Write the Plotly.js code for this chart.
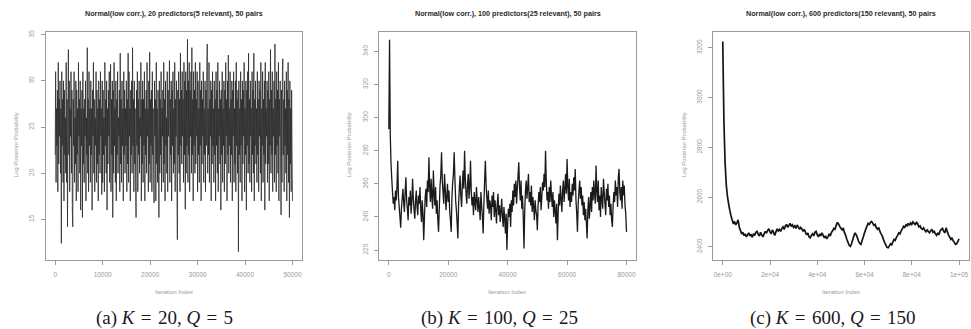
<!DOCTYPE html>
<html>
<head>
<meta charset="utf-8">
<script src="https://cdn.plot.ly/plotly-3.0.1.min.js"></script>
<style>
  html, body { margin: 0; padding: 0; background: #fff; }
  #chart { width: 971px; height: 329px; }
</style>
</head>
<body>
<div id="chart"></div>
<script>
// ---------------- data ----------------
const titles = [
  "Normal(low corr.), 20 predictors(5 relevant), 50 pairs",
  "Normal(low corr.), 100 predictors(25 relevant), 50 pairs",
  "Normal(low corr.), 600 predictors(150 relevant), 50 pairs"
];
const captions = [
  "(a) <i>K</i> \u200A=\u200A 20, <i>Q</i> \u200A=\u200A 5",
  "(b) <i>K</i> \u200A=\u200A 100, <i>Q</i> \u200A=\u200A 25",
  "(c) <i>K</i> \u200A=\u200A 600, <i>Q</i> \u200A=\u200A 150"
];
const yLabel = "Log Posterior Probability";
const xLabel = "Iteration Index";

// last iteration index of each chain (samples are evenly spaced from 0)
const lastIterA = 50000;
const lastIterB = 80000;
const lastIterC = 100000;

// panel (a): log posterior trace, K = 20
const traceA = [
  22,31,19,27,23,29,18,32,21,28,24,30,20,27,12.4,31,23,28,19,30,
  17,29,22,26,20,32,19,28,14.2,27,33.4,22,30,18,27,24,31,20,29,16,
  14.2,28,23,31,19,26,21,30,17,29,22,27,18,32,24,28,20,30,16,27,
  23,29,15.2,31,21,27,19,28,24,30,17,26,22,33.6,20,28,18,31,23,27,
  19,30,22,27,16,29,24,32,20,28,18,26,23,31,19,29,21,27,17,30,
  22,28,20,31,24,27,17.7,30,19,29,22,26,18,32,23,28,20,30,16,27,
  21,29,24,31,19,27,31.8,18,28,22,30,15.2,29,20,32,23,27,19,30,17,
  28,22,31,20,26,24,29,18,33,21,28,19,30,23,27,17,31,22,29,20,
  27,23,30,18,28,21,33,19,31,24,27,17,29,22,30,20,33.6,23,28,18,
  30,21,27,19,15.2,29,23,31,18,28,22,30,20,26,24,32,17,28,21,30,
  19,28,23,31,17,27,22,29,20,32,24,27,18,30,21,33.1,19,28,23,29,
  18,31,22,27,20,16.8,30,24,28,17,32,21,27,19,29,23,15.2,30,20,28,
  22,31,18,27,24,29,19,32,21,28,17,30,23,26,20,31,18,29,24,27,
  32.2,19,28,22,30,17,29,23,31,20,27,21,32,18,28,24,30,19,12.8,29,
  22,31,20,28,18,33,23,29,21,31,24,28,19,32,22,30,16.1,31,20,29,
  23,34.5,19,30,22,32,18,29,24,31,20,33.6,22,28,17,31,23,29,20,32,
  21,28,24,31,18,30,22,27,19,32,23,29,17,30,21,28,24,31,19,27,
  22,30,18,29,23,31,34,20,27,22,32,19,28,24,30,17,29,21,31,23,
  27,19,30,22,28,17,31,23,29,20,32,18,27,24,30,21,28,16,29,22,
  31,19,27,23,30,18,29,21,32,24,28,17,30,22,32.8,20,27,23,31,19,
  28,22,30,17,29,24,31,19,27,21,30,18,32,23,28,20,29,11.5,30,22,
  27,19,31,23,28,17,30,21,29,24,32,18,27,22,30,16,29,23,31,20,
  33,21,28,19,30,24,27,18,31,22,29,20,33,17,28,23,30,21,27,19,
  31,22,28,18,30,24,29,20,32,17,27,23,31,19,28,22,30,16,32,21,
  27,24,30,19,29,21,31,17,28,23,33.4,20,29,22,31,18,27,24,30,19,
  34,22,28,18,31,23,29,20,32,17,28,24,30,21,15.5,29,19,31,32.4,22,
  28,18,30,23,27,20,31,17,29,22,32,19,28,15.2,30,21,27,18,29,22,
  17
];

// panel (b): log posterior trace, K = 100
const traceB = [
  293,347,289,272,263,255,248,252,244,256,250,258,274,252,246,240,233.5,245,251,257,
  249,243,255,264,250,245,238,252,247,256,242,249,263,251,244,239,250,256,246,241,
  253,248,258,244,237,250,242,226,240,252,257,246,262,255,276,258,249,263,252,245,
  268,254,247,258,242,250,238,231,246,259,265,279,262,255,248,266,257,244,252,260,
  249,256,243,238,231,252,261,266,279,263,250,244,236,227,248,258,265,252,246,259,
  268,257,280,263,254,248,260,266,251,258,274,256,247,252,241,255,249,244,258,250,
  243,252,246,238,255,247,240,230,248,262,274,259,251,245,256,242,250,247,238,253,
  246,255,240,250,244,236,248,254,241,247,237,243,251,240,234,246,239,230,242,220,
  236,245,240,248,234,250,243,256,247,260,252,262,248,257,265,273,258,250,262,245,
  253,240,221,244,256,262,251,258,266,249,255,247,259,243,252,246,238,250,244,241,
  232,247,255,249,258,244,252,261,256,266,258,280,262,250,255,245,258,249,262,253,
  246,255,240,250,244,236,248,226,242,254,247,259,251,243,256,262,249,257,266,254,
  275,258,250,263,246,255,249,260,253,264,256,269,250,242,231,248,256,262,251,258,
  247,253,241,249,238,245,236,227,244,252,239,247,255,243,258,250,262,254,248,271,
  256,249,262,244,253,240,258,251,245,263,255,248,241,257,250,260,246,253,241,248,
  238,234,247,255,249,262,253,258,246,264,269,255,250,258,245,262,253,259,247,242,
  231
];

// panel (c): log posterior trace, K = 600
const traceC = [
  3225,2900,2735,2648,2602,2572,2546,2524,2508,2492,
  2502,2488,2496,2508,2478,2466,2452,2458,2445,2452,
  2440,2448,2456,2444,2450,2438,2452,2446,2458,2462,
  2450,2444,2458,2448,2440,2452,2462,2455,2466,2472,
  2460,2452,2468,2458,2446,2460,2472,2464,2470,2462,
  2474,2480,2470,2484,2490,2478,2486,2494,2482,2488,
  2478,2484,2474,2488,2480,2470,2478,2472,2462,2470,
  2458,2448,2456,2440,2436,2446,2452,2444,2458,2462,
  2448,2440,2452,2444,2456,2446,2436,2444,2432,2440,
  2450,2444,2458,2464,2474,2470,2486,2498,2492,2482,
  2474,2468,2476,2458,2446,2430,2418,2406,2402,2412,
  2428,2444,2456,2448,2436,2422,2414,2410,2426,2440,
  2456,2470,2482,2494,2490,2498,2502,2494,2486,2490,
  2476,2470,2478,2462,2452,2444,2430,2418,2408,2398,
  2396,2404,2412,2408,2420,2430,2426,2438,2446,2456,
  2452,2464,2472,2482,2478,2488,2484,2494,2486,2496,
  2490,2500,2494,2488,2500,2492,2480,2484,2474,2470,
  2476,2466,2460,2468,2462,2456,2464,2470,2458,2462,
  2452,2446,2456,2448,2464,2470,2474,2462,2456,2476,
  2462,2448,2440,2430,2436,2424,2418,2410,2412,2422,
  2432
];

// tick values / labels
const xTicksA = [0,10000,20000,30000,40000,50000];
const xTextA  = ["0","10000","20000","30000","40000","50000"];
const yTicksA = [15,20,25,30,35];
const yTextA  = ["15","20","25","30","35"];
const xTicksB = [0,20000,40000,60000,80000];
const xTextB  = ["0","20000","40000","60000","80000"];
const yTicksB = [220,240,260,280,300,320,340];
const yTextB  = ["220","240","260","280","300","320","340"];
const xTicksC = [0,20000,40000,60000,80000,100000];
const xTextC  = ["0e+00","2e+04","4e+04","6e+04","8e+04","1e+05"];
const yTicksC = [2400,2600,2800,3000,3200];
const yTextC  = ["2400","2600","2800","3000","3200"];

// ---------------- layout ----------------
const W = 971, H = 329;
const px = v => v / W;
const py = v => (H - v) / H;

const plotTop = 31.5, plotBottom = 260;
const boxes = [[45.7, 302.0], [379.3, 636.0], [713.3, 968.5]];
const yDom = [py(plotBottom), py(plotTop)];

const axisFontFamily = "Liberation Sans, Arial, sans-serif";
const grey = "#9a9a9a";

function xAxis(i, range, vals, text, anchor) {
  return {
    domain: [px(boxes[i][0]), px(boxes[i][1])],
    range: range, anchor: anchor,
    tickmode: "array", tickvals: vals, ticktext: text,
    showgrid: false, zeroline: false,
    showline: true, mirror: true, linecolor: grey, linewidth: 1,
    ticks: "outside", ticklen: 4, tickcolor: grey, tickwidth: 1,
    ticklabelstandoff: 4,
    tickfont: { size: 6.5, color: grey, family: axisFontFamily },
    fixedrange: true
  };
}
function yAxis(range, vals, text, anchor) {
  return {
    domain: yDom, range: range, anchor: anchor,
    tickmode: "array", tickvals: vals, ticktext: text,
    tickangle: -90,
    showgrid: false, zeroline: false,
    showline: true, mirror: true, linecolor: grey, linewidth: 1,
    ticks: "outside", ticklen: 4, tickcolor: grey, tickwidth: 1,
    ticklabelstandoff: 4,
    tickfont: { size: 6.5, color: grey, family: axisFontFamily },
    fixedrange: true
  };
}

const traces = [
  { type: "scatter", mode: "lines", y: traceA, x0: 0, dx: lastIterA / (traceA.length - 1),
    xaxis: "x", yaxis: "y", line: { color: "#2a2a2a", width: 0.8, simplify: false }, hoverinfo: "skip" },
  { type: "scatter", mode: "lines", y: traceB, x0: 0, dx: lastIterB / (traceB.length - 1),
    xaxis: "x2", yaxis: "y2", line: { color: "#1a1a1a", width: 1.3, simplify: false }, hoverinfo: "skip" },
  { type: "scatter", mode: "lines", y: traceC, x0: 0, dx: lastIterC / (traceC.length - 1),
    xaxis: "x3", yaxis: "y3", line: { color: "#151515", width: 1.7, simplify: false }, hoverinfo: "skip" }
];

const titleX = [174, 507.5, 840.5];
const xLabelX = [174, 507, 841];
const yLabelX = [15, 348, 683];
const captionX = [164, 499, 833];

const annotations = [];
for (let i = 0; i < 3; i++) {
  annotations.push({
    xref: "paper", yref: "paper", x: px(titleX[i]), y: py(14),
    xanchor: "center", yanchor: "middle", showarrow: false,
    text: "<b>" + titles[i] + "</b>",
    font: { size: 7.2, color: "#2a2a2a", family: axisFontFamily }
  });
  annotations.push({
    xref: "paper", yref: "paper", x: px(xLabelX[i]), y: py(291.7),
    xanchor: "center", yanchor: "middle", showarrow: false,
    text: xLabel, font: { size: 6, color: grey, family: axisFontFamily }
  });
  annotations.push({
    xref: "paper", yref: "paper", x: px(yLabelX[i]), y: py(145.5),
    xanchor: "center", yanchor: "middle", showarrow: false, textangle: -90,
    text: yLabel, font: { size: 6, color: grey, family: axisFontFamily }
  });
  annotations.push({
    xref: "paper", yref: "paper", x: px(captionX[i]), y: py(317.5),
    xanchor: "center", yanchor: "middle", showarrow: false,
    text: captions[i], font: { size: 19, color: "#1a1a1a", family: "Liberation Serif, Times New Roman, serif" }
  });
}

const layout = {
  width: W, height: H,
  margin: { l: 0, r: 0, t: 0, b: 0, pad: 0 },
  paper_bgcolor: "#fff", plot_bgcolor: "#fff",
  showlegend: false,
  xaxis:  xAxis(0, [-2000, 52000], xTicksA, xTextA, "y"),
  yaxis:  yAxis([10.6, 35.35], yTicksA, yTextA, "x"),
  xaxis2: xAxis(1, [-3200, 83200], xTicksB, xTextB, "y2"),
  yaxis2: yAxis([214, 352], yTicksB, yTextB, "x2"),
  xaxis3: xAxis(2, [-4000, 104000], xTicksC, xTextC, "y3"),
  yaxis3: yAxis([2347, 3265], yTicksC, yTextC, "x3"),
  annotations: annotations
};

Plotly.newPlot("chart", traces, layout, { staticPlot: true, displayModeBar: false });
</script>
</body>
</html>
